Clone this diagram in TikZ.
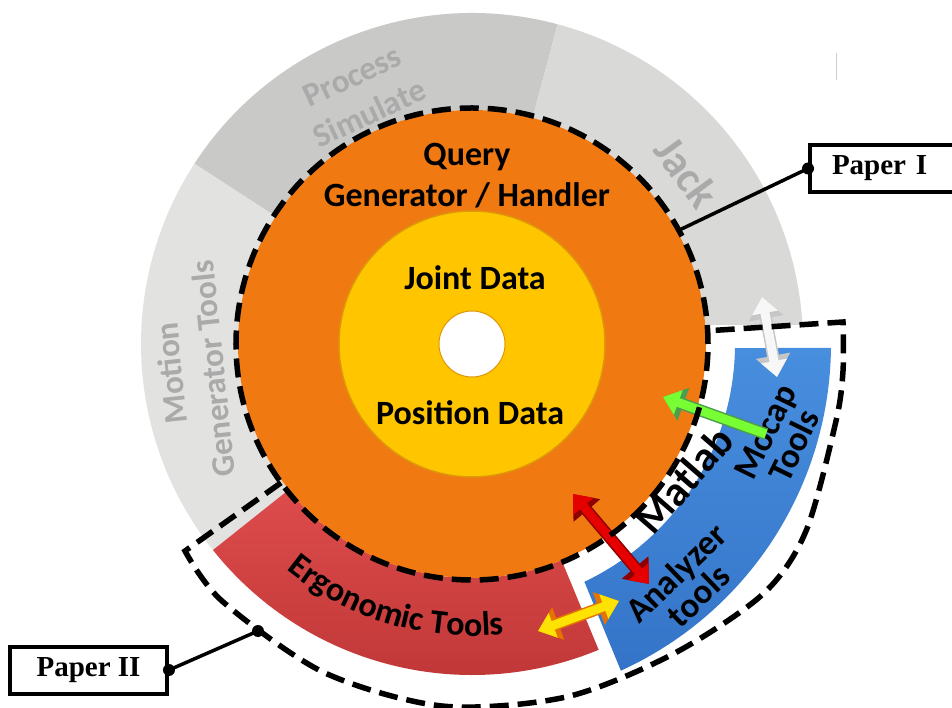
\documentclass[tikz,border=0pt]{standalone}
\usepackage{fontspec}
\newfontfamily\calfont{Carlito}
\newfontfamily\timesfont{Liberation Serif}
\usetikzlibrary{calc,positioning,arrows.meta,decorations.text}

\definecolor{procgray}{RGB}{201,201,199}
\definecolor{motiongray}{RGB}{226,226,224}
\definecolor{jackgray}{RGB}{217,217,215}
\definecolor{labelgray}{RGB}{170,170,170}
\definecolor{ringorange}{RGB}{240,121,18}
\definecolor{coreyellow}{RGB}{255,198,0}
\definecolor{yellowedge}{RGB}{222,150,10}
\definecolor{ergotop}{RGB}{222,76,76}
\definecolor{ergobot}{RGB}{188,52,52}
\definecolor{bluetop}{RGB}{72,142,222}
\definecolor{bluebot}{RGB}{52,116,200}

\newcommand{\ergofont}{\calfont\bfseries\fontsize{34}{38}\selectfont}

\tikzset{
  lbl/.style={align=center, inner sep=0pt, font=\calfont\bfseries\fontsize{34}{41}\selectfont},
  tightlbl/.style={lbl, font=\calfont\bfseries\fontsize{35}{32}\selectfont},
  graylbl/.style={lbl, text=labelgray, font=\calfont\bfseries\fontsize{33}{41}\selectfont},
  paperbox/.style={draw, line width=4pt, fill=white, minimum height=47pt,
    font=\timesfont\bfseries\fontsize{29}{32}\selectfont},
  regionline/.style={line width=5.5pt, dash pattern=on 19pt off 9pt},
  fatarrow/.style 2 args={line width=9pt, draw=#1, >={Triangle[width=0pt 2.8,length=0pt 1.8]},
    preaction={draw=#2, line width=12pt}},
  dotend/.style={fill, circle, inner sep=0pt, minimum size=12pt}
}

\begin{document}
\begin{tikzpicture}[x=1pt,y=1pt]
\useasboundingbox (-472,-364) rectangle (480,344);

\fill[procgray] (75:331) arc[start angle=75,end angle=147,radius=331]
  -- (147:234) arc[start angle=147,end angle=75,radius=234] -- cycle;
\fill[motiongray] (147:331) arc[start angle=147,end angle=218.5,radius=331]
  -- (218.5:234) arc[start angle=218.5,end angle=147,radius=234] -- cycle;
\fill[jackgray] (75:331) arc[start angle=75,end angle=3.3,radius=331]
  -- (4.7:234) arc[start angle=4.7,end angle=75,radius=234] -- cycle;
\shade[top color=ergotop, bottom color=ergobot] (218.5:331) arc[start angle=218.5,end angle=292.5,radius=331]
  -- (292.5:234) arc[start angle=292.5,end angle=218.5,radius=234] -- cycle;
\shade[top color=bluetop, bottom color=bluebot] (-0.9:263) -- (-0.6:359)
  arc[start angle=-0.6,end angle=-65.5,radius=359]
  -- (-64.7:263) arc[start angle=-64.7,end angle=-0.9,radius=263] -- cycle;

\fill[ringorange] (0,0) circle[radius=234];
\filldraw[fill=coreyellow, draw=yellowedge, line width=1.5pt] (0,0) circle[radius=133];
\filldraw[fill=white, draw=yellowedge, line width=1pt] (0,0) circle[radius=33];

\draw[labelgray!60, line width=1pt] (364,291) -- (364,264);

\node[lbl] (query) at (-5,168) {Query\\Generator / Handler};
\node[lbl] (joint) at (3,66) {Joint Data};
\node[lbl] (position) at (-2,-69) {Position Data};
\node[graylbl, rotate=25] (process) at (-111,249) {Process\\Simulate};
\node[graylbl, rotate=-54, font=\calfont\bfseries\fontsize{44}{44}\selectfont] (jack) at (215,172) {Jack};
\node[graylbl, rotate=96, font=\calfont\bfseries\fontsize{33}{42}\selectfont] (motion) at (-280,-27) {Motion\\Generator Tools};
\node[lbl, rotate=49, font=\calfont\bfseries\fontsize{42}{44}\selectfont] (matlab) at (212,-136) {Matlab};
\node[tightlbl, rotate=64] (mocap) at (308,-95) {Mocap\\Tools};
\node[tightlbl, rotate=44] (analyzer) at (215,-240) {Analyzer\\tools};
\path[decorate, decoration={text along path, text align=center,
  text={|\ergofont|Ergonomic Tools}}]
  (222:292) arc[start angle=222,end angle=285,radius=292];

\coordinate (ghead) at (191,-53);
\coordinate (gtail) at (294,-90);
\coordinate (rtop) at (101,-150);
\coordinate (rbot) at (177,-240);
\coordinate (yleft) at (66,-287);
\coordinate (yright) at (147,-257);
\coordinate (wtop) at (290,47);
\coordinate (wbot) at (305,-33);
\draw[fatarrow={white!94!gray}{gray!45}, <->] (wtop) -- (wbot);
\draw[fatarrow={green!55!lime!80!white}{green!45!black!70}, ->] (gtail) -- (ghead);
\draw[fatarrow={red!90!black}{red!55!black}, <->] (rtop) -- (rbot);
\draw[fatarrow={yellow!85!orange}{orange!90!black}, <->] (yleft) -- (yright);

\draw[regionline] (0,0) circle[radius=236];
\draw[regionline] (216:236) -- plot[smooth] coordinates {(-287,-207) (-250,-257) (-149,-328)
  (-30,-362) (94,-353) (201,-310) (291,-250) (334,-187) (364,-77) (371,-27) (371,22)}
  -- (3.2:236);

\node[paperbox, anchor=west, text width=118pt, inner xsep=22pt, align=left] (paper1) at (336,175.5) {Paper I};
\node[paperbox, minimum width=157pt] (paper2) at (-383.5,-326) {Paper II};
\coordinate (c1) at (28.8:236);
\coordinate (c2) at (-214,-287);
\draw[line width=3.5pt] (paper1.west) -- (c1);
\draw[line width=3.5pt] (paper2.east) -- (c2);
\node[dotend] (d1) at (paper1.west) {};
\node[dotend] (d2) at (paper2.east) {};
\node[dotend] (d3) at (c2) {};
\end{tikzpicture}
\end{document}
